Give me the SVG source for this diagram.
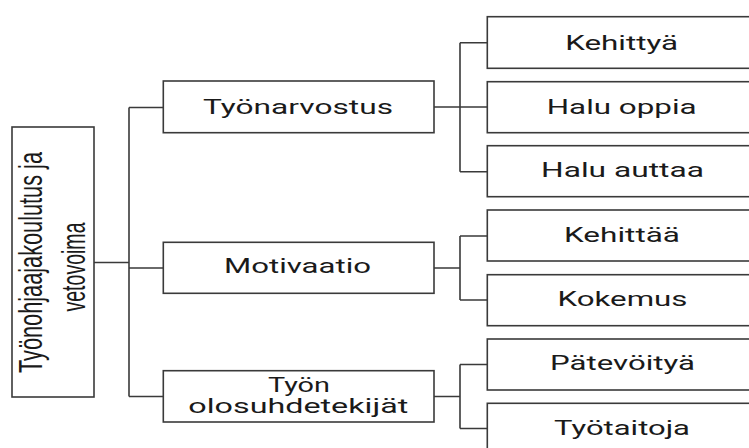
<svg xmlns="http://www.w3.org/2000/svg" width="749" height="448" viewBox="0 0 749 448">
<style>
.box{fill:#ffffff;stroke:#3a3a3a;stroke-width:1.6}
.ln{fill:none;stroke:#3a3a3a;stroke-width:1.6}
.t{font-family:Roboto,"Liberation Sans",sans-serif;font-size:21px;fill:#1a1a1a;text-anchor:middle}
.r{font-family:"Liberation Sans Narrow","Liberation Sans",sans-serif;font-size:34px;fill:#1a1a1a;text-anchor:middle}
</style>
<rect width="749" height="448" fill="#ffffff"/>
<g id="connectors">
<path class="ln" d="M94 262.5H129M129 107.5V396.5M129 107.5H163M129 268H163M129 396.5H163"/>
<path class="ln" d="M434 107H460M460 42.7V171.7M460 42.7H487M460 107H487M460 171.7H487"/>
<path class="ln" d="M434 268H460M460 236V300M460 236H487M460 300H487"/>
<path class="ln" d="M434 396.5H460M460 364.5V428.5M460 364.5H487M460 428.5H487"/>
</g>
<g id="root">
<rect class="box" x="12" y="127" width="82" height="270"/>
<text class="r" transform="translate(42 262.5) rotate(-90)" x="0" y="0" textLength="221" lengthAdjust="spacingAndGlyphs">Työnohjaajakoulutus ja</text>
<text class="r" transform="translate(85 267) rotate(-90)" x="0" y="0" textLength="89" lengthAdjust="spacingAndGlyphs">vetovoima</text>
</g>
<g id="tyonarvostus">
<rect class="box" x="163.3" y="81" width="270.7" height="51.7"/>
<text class="t" x="298" y="113.5" textLength="190" lengthAdjust="spacingAndGlyphs">Työnarvostus</text>
</g>
<g id="motivaatio">
<rect class="box" x="163.3" y="242.3" width="270.7" height="51"/>
<text class="t" x="297.5" y="273" textLength="147" lengthAdjust="spacingAndGlyphs">Motivaatio</text>
</g>
<g id="olosuhdetekijat">
<rect class="box" x="163.3" y="370.7" width="270.7" height="51.3"/>
<text class="t" x="299" y="391.7" textLength="62" lengthAdjust="spacingAndGlyphs">Työn</text>
<text class="t" x="298.3" y="413.3" textLength="220" lengthAdjust="spacingAndGlyphs">olosuhdetekijät</text>
</g>
<g id="kehittya">
<rect class="box" x="487.3" y="16.7" width="275" height="51.6"/>
<text class="t" x="621.7" y="49.5" textLength="113" lengthAdjust="spacingAndGlyphs">Kehittyä</text>
</g>
<g id="halu-oppia">
<rect class="box" x="487.3" y="81.7" width="275" height="51"/>
<text class="t" x="621.7" y="113.5" textLength="150" lengthAdjust="spacingAndGlyphs">Halu oppia</text>
</g>
<g id="halu-auttaa">
<rect class="box" x="487.3" y="145.7" width="275" height="51"/>
<text class="t" x="622.5" y="177" textLength="163" lengthAdjust="spacingAndGlyphs">Halu auttaa</text>
</g>
<g id="kehittaa">
<rect class="box" x="487.3" y="210" width="275" height="51"/>
<text class="t" x="622" y="241.8" textLength="116" lengthAdjust="spacingAndGlyphs">Kehittää</text>
</g>
<g id="kokemus">
<rect class="box" x="487.3" y="274.7" width="275" height="51"/>
<text class="t" x="622.5" y="306.2" textLength="130" lengthAdjust="spacingAndGlyphs">Kokemus</text>
</g>
<g id="patevoitya">
<rect class="box" x="487.3" y="339" width="275" height="51"/>
<text class="t" x="622.5" y="370.3" textLength="145" lengthAdjust="spacingAndGlyphs">Pätevöityä</text>
</g>
<g id="tyotaitoja">
<rect class="box" x="487.3" y="403.3" width="275" height="51.2"/>
<text class="t" x="622" y="434.5" textLength="136" lengthAdjust="spacingAndGlyphs">Työtaitoja</text>
</g>
</svg>
